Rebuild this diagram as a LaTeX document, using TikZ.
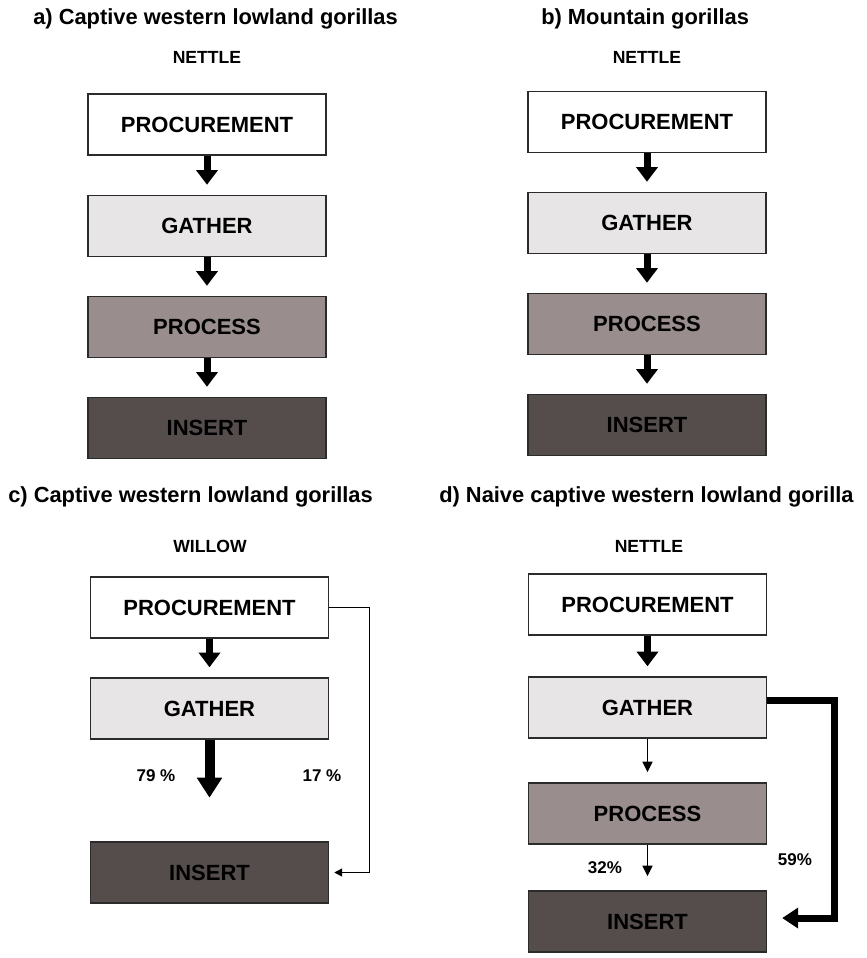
\documentclass[tikz,border=0pt]{standalone}
\usepackage{fontspec}
\setmainfont{Liberation Sans}
\usetikzlibrary{arrows.meta}
\definecolor{gatherc}{HTML}{E7E5E6}
\definecolor{processc}{HTML}{998E8D}
\definecolor{insertc}{HTML}{544D4C}
\definecolor{edgec}{HTML}{2B2B2B}
\begin{document}
\begin{tikzpicture}[x=0.75pt,y=-0.75pt,
 box/.style={draw=edgec, line width=1.1pt, minimum width=178.5pt, minimum height=45.75pt, inner sep=0pt, font=\fontsize{16.5}{18}\selectfont\bfseries, text=black},
 procbox/.style={box, fill=white},
 gathbox/.style={box, fill=gatherc},
 pcsbox/.style={box, fill=processc},
 insbox/.style={box, fill=insertc, text=black},
 title/.style={anchor=west, font=\fontsize{16.4}{18}\selectfont\bfseries, inner sep=0pt},
 plant/.style={font=\fontsize{13.2}{15}\selectfont\bfseries, inner sep=0pt},
 pct/.style={font=\fontsize{12.75}{14}\selectfont\bfseries, inner sep=0pt},
 fatarrow/.style={line width=5.25pt, -{Triangle[width=15.75pt,length=11pt]}},
 bigarrow/.style={line width=7.5pt, -{Triangle[width=18pt,length=15pt]}},
 thinconn/.style={line width=1.1pt, line join=miter, -{Triangle[width=6pt,length=6pt]}},
 thinarrow/.style={line width=1.1pt, -{Triangle[width=7.5pt,length=8pt]}},
 thickconn/.style={line width=5.25pt, line join=miter, -{Triangle[width=15pt,length=12pt]}}
]
\fill[white] (0,0) rectangle (867,958);
\useasboundingbox (0,0) rectangle (867,958);

% ---------- panel a ----------
\node[title] (ta) at (33,19) {a) Captive western lowland gorillas};
\node[plant] (pa) at (207,57) {NETTLE};
\node[procbox] (a1) at (207,124.5) {PROCUREMENT};
\node[gathbox] (a2) at (207,226) {GATHER};
\node[pcsbox]  (a3) at (207,327) {PROCESS};
\node[insbox]  (a4) at (207,428) {INSERT};
\draw[fatarrow] (a1.south) -- ([yshift=7.5pt]a2.north);
\draw[fatarrow] (a2.south) -- ([yshift=7.5pt]a3.north);
\draw[fatarrow] (a3.south) -- ([yshift=7.5pt]a4.north);

% ---------- panel b ----------
\node[title] (tb) at (541,19) {b) Mountain gorillas};
\node[plant] (pb) at (647,57) {NETTLE};
\node[procbox] (b1) at (647,122) {PROCUREMENT};
\node[gathbox] (b2) at (647,223) {GATHER};
\node[pcsbox]  (b3) at (647,324) {PROCESS};
\node[insbox]  (b4) at (647,425) {INSERT};
\draw[fatarrow] (b1.south) -- ([yshift=7.5pt]b2.north);
\draw[fatarrow] (b2.south) -- ([yshift=7.5pt]b3.north);
\draw[fatarrow] (b3.south) -- ([yshift=7.5pt]b4.north);

% ---------- panel c ----------
\node[title] (tc) at (8,497) {c) Captive western lowland gorillas};
\node[plant] (pc) at (210,546) {WILLOW};
\node[procbox] (c1) at (209.5,607.5) {PROCUREMENT};
\node[gathbox] (c2) at (209.5,708.5) {GATHER};
\node[insbox]  (c4) at (209.5,872.5) {INSERT};
\draw[fatarrow] (c1.south) -- ([yshift=7.5pt]c2.north);
\coordinate (ctip) at ([yshift=-43.5pt]c2.south);
\draw[bigarrow] (c2.south) -- (ctip);
\draw[thinconn] (c1.east) -- ++(40,0) |- ([xshift=3.75pt]c4.east);
\node[pct] (l79) at (156,776) {79 \%};
\node[pct] (l17) at (322,776) {17 \%};

% ---------- panel d ----------
\node[title] (td) at (439,497) {d) Naive captive western lowland gorilla};
\node[plant] (pd) at (649,546) {NETTLE};
\node[procbox] (d1) at (647.5,604.5) {PROCUREMENT};
\node[gathbox] (d2) at (647.5,707.5) {GATHER};
\node[pcsbox]  (d3) at (647.5,813.5) {PROCESS};
\node[insbox]  (d4) at (647.5,921.5) {INSERT};
\draw[fatarrow] (d1.south) -- ([yshift=7.5pt]d2.north);
\draw[thinarrow] (d2.south) -- ([yshift=7.5pt]d3.north);
\draw[thinarrow] (d3.south) -- ([yshift=10.5pt]d4.north);
\draw[thickconn] ([yshift=5.25pt]d2.east) -- ++(67,0) |- ([xshift=11.25pt,yshift=2.6pt]d4.east);
\node[pct] (l32) at (605,868) {32\%};
\node[pct] (l59) at (795,860) {59\%};
\end{tikzpicture}
\end{document}
